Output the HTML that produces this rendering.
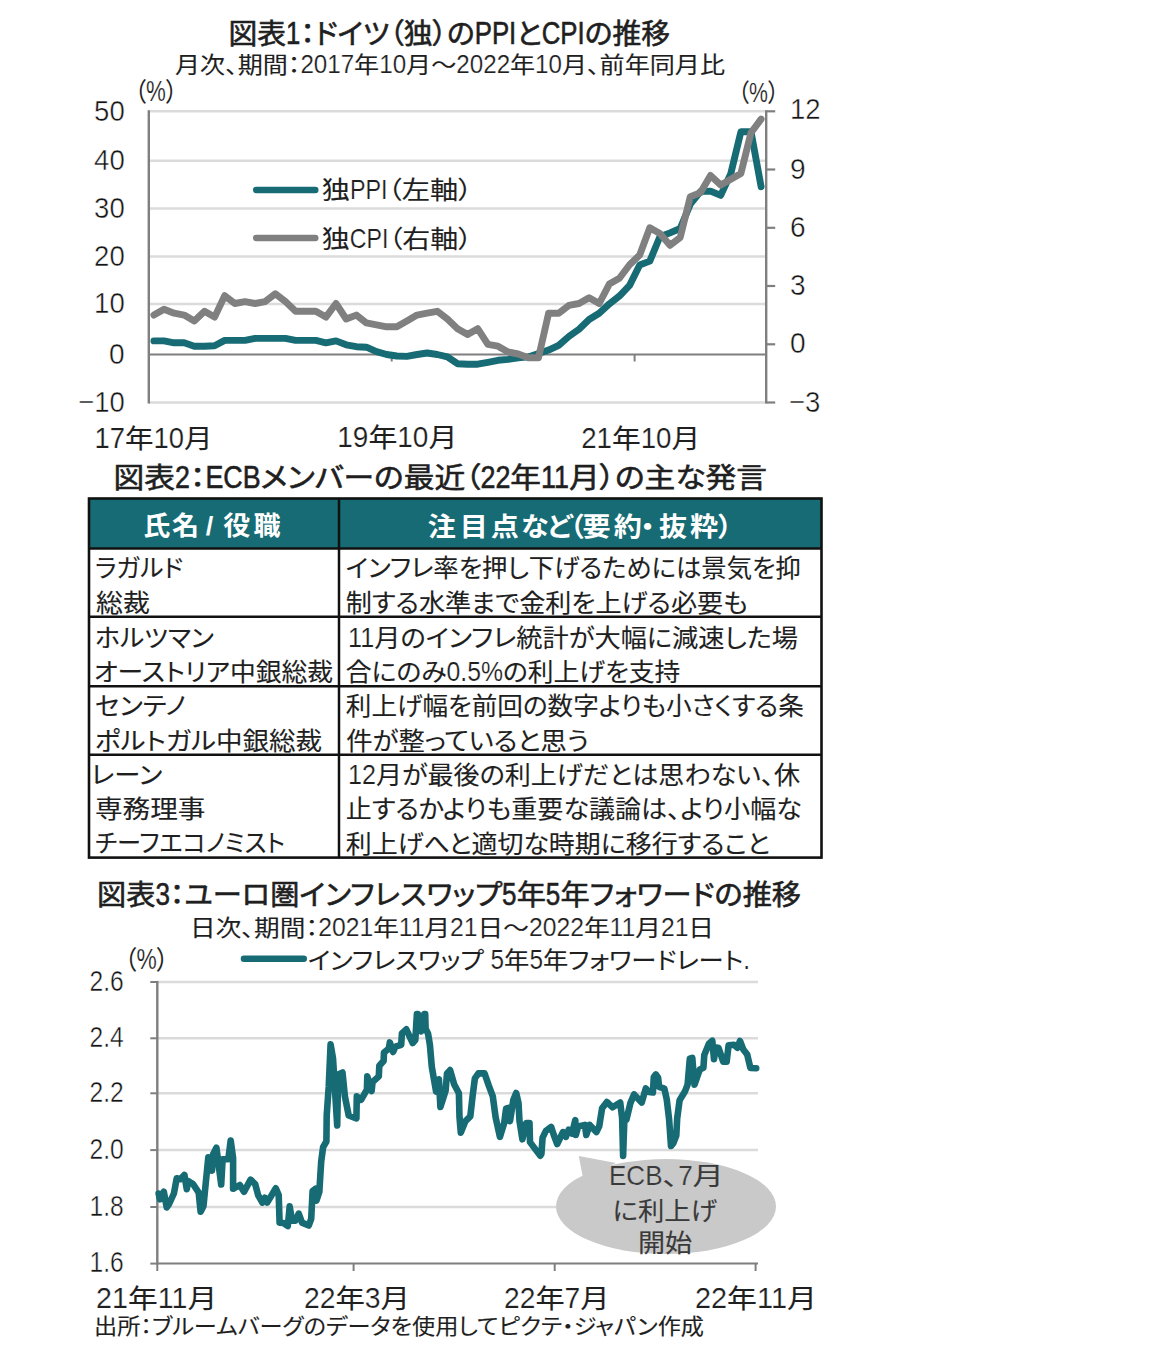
<!DOCTYPE html>
<html lang="ja"><head><meta charset="utf-8"><title>図表</title>
<style>
html,body{margin:0;padding:0;background:#fff;}
svg{display:block;}
text{font-family:"Liberation Sans","Noto Sans CJK JP",sans-serif;font-feature-settings:"palt";}
</style></head><body>
<svg width="1152" height="1345" viewBox="0 0 1152 1345">
<rect width="1152" height="1345" fill="#ffffff"/>
<text y="43.6" font-size="28.3" font-weight="400" fill="#1f1f1f" stroke="#1f1f1f" stroke-width="0.6"><tspan x="228.5" textLength="57.6" lengthAdjust="spacingAndGlyphs">図表</tspan><tspan x="286.1" font-size="31.7" textLength="14.3" lengthAdjust="spacingAndGlyphs">1</tspan><tspan x="300.4" textLength="174.3" lengthAdjust="spacingAndGlyphs">：ドイツ（独）の</tspan><tspan x="474.7" font-size="31.7" textLength="41.6" lengthAdjust="spacingAndGlyphs">PPI</tspan><tspan x="516.3" textLength="25.4" lengthAdjust="spacingAndGlyphs">と</tspan><tspan x="541.7" font-size="31.7" textLength="43.0" lengthAdjust="spacingAndGlyphs">CPI</tspan><tspan x="584.7" textLength="85.3" lengthAdjust="spacingAndGlyphs">の推移</tspan></text>
<text y="73.2" font-size="22.3" font-weight="400" fill="#1f1f1f" stroke="#1f1f1f" stroke-width="0.12"><tspan x="175.0" textLength="125.4" lengthAdjust="spacingAndGlyphs">月次、期間：</tspan><tspan x="300.4" font-size="25.0" stroke="#fff" stroke-width="0.2" textLength="53.8" lengthAdjust="spacingAndGlyphs">2017</tspan><tspan x="354.1" textLength="25.1" lengthAdjust="spacingAndGlyphs">年</tspan><tspan x="379.2" font-size="25.0" stroke="#fff" stroke-width="0.2" textLength="26.9" lengthAdjust="spacingAndGlyphs">10</tspan><tspan x="406.1" textLength="50.2" lengthAdjust="spacingAndGlyphs">月～</tspan><tspan x="456.3" font-size="25.0" stroke="#fff" stroke-width="0.2" textLength="53.8" lengthAdjust="spacingAndGlyphs">2022</tspan><tspan x="510.1" textLength="25.1" lengthAdjust="spacingAndGlyphs">年</tspan><tspan x="535.1" font-size="25.0" stroke="#fff" stroke-width="0.2" textLength="26.9" lengthAdjust="spacingAndGlyphs">10</tspan><tspan x="562.0" textLength="163.0" lengthAdjust="spacingAndGlyphs">月、前年同月比</tspan></text>
<text y="100.86" font-size="26" font-weight="400" fill="#1f1f1f" stroke="#1f1f1f" stroke-width="0.12"><tspan x="134.5" textLength="11.6" lengthAdjust="spacingAndGlyphs">（</tspan><tspan x="146.1" font-size="29.1" stroke="#fff" stroke-width="0.2" textLength="19.8" lengthAdjust="spacingAndGlyphs">%</tspan><tspan x="165.9" textLength="11.6" lengthAdjust="spacingAndGlyphs">）</tspan></text>
<text y="101.86" font-size="25" font-weight="400" fill="#1f1f1f" stroke="#1f1f1f" stroke-width="0.12"><tspan x="738.0" textLength="11.0" lengthAdjust="spacingAndGlyphs">（</tspan><tspan x="749.0" font-size="28.0" stroke="#fff" stroke-width="0.2" textLength="18.9" lengthAdjust="spacingAndGlyphs">%</tspan><tspan x="768.0" textLength="11.0" lengthAdjust="spacingAndGlyphs">）</tspan></text>
<line x1="148.8" x2="766.2" y1="111.3" y2="111.3" stroke="#dbdbdb" stroke-width="2.5"/>
<line x1="148.8" x2="766.2" y1="160.8" y2="160.8" stroke="#dbdbdb" stroke-width="2.5"/>
<line x1="148.8" x2="766.2" y1="208.5" y2="208.5" stroke="#dbdbdb" stroke-width="2.5"/>
<line x1="148.8" x2="766.2" y1="256.6" y2="256.6" stroke="#dbdbdb" stroke-width="2.5"/>
<line x1="148.8" x2="766.2" y1="303.9" y2="303.9" stroke="#dbdbdb" stroke-width="2.5"/>
<line x1="148.8" x2="766.2" y1="402.4" y2="402.4" stroke="#dbdbdb" stroke-width="2.5"/>
<line x1="148.8" x2="766.2" y1="354.5" y2="354.5" stroke="#7f7f7f" stroke-width="2.2"/>
<line x1="148.8" x2="148.8" y1="110.3" y2="403.5" stroke="#7f7f7f" stroke-width="2.4"/>
<line x1="766.2" x2="766.2" y1="110.3" y2="403.5" stroke="#7f7f7f" stroke-width="2.4"/>
<line x1="766.2" x2="775.2" y1="111.3" y2="111.3" stroke="#7f7f7f" stroke-width="2.2"/>
<line x1="766.2" x2="775.2" y1="169.5" y2="169.5" stroke="#7f7f7f" stroke-width="2.2"/>
<line x1="766.2" x2="775.2" y1="227.8" y2="227.8" stroke="#7f7f7f" stroke-width="2.2"/>
<line x1="766.2" x2="775.2" y1="286.0" y2="286.0" stroke="#7f7f7f" stroke-width="2.2"/>
<line x1="766.2" x2="775.2" y1="344.3" y2="344.3" stroke="#7f7f7f" stroke-width="2.2"/>
<line x1="766.2" x2="775.2" y1="402.5" y2="402.5" stroke="#7f7f7f" stroke-width="2.2"/>
<line x1="391.7" x2="391.7" y1="354.5" y2="361.5" stroke="#7f7f7f" stroke-width="2"/>
<line x1="634.6" x2="634.6" y1="354.5" y2="361.5" stroke="#7f7f7f" stroke-width="2"/>
<text x="94.1" y="120.7" font-size="30" font-weight="400" fill="#141414" stroke="#fff" stroke-width="0.45" textLength="30.6" lengthAdjust="spacingAndGlyphs">50</text>
<text x="94.1" y="170.2" font-size="30" font-weight="400" fill="#141414" stroke="#fff" stroke-width="0.45" textLength="30.6" lengthAdjust="spacingAndGlyphs">40</text>
<text x="94.1" y="217.9" font-size="30" font-weight="400" fill="#141414" stroke="#fff" stroke-width="0.45" textLength="30.6" lengthAdjust="spacingAndGlyphs">30</text>
<text x="94.1" y="266.0" font-size="30" font-weight="400" fill="#141414" stroke="#fff" stroke-width="0.45" textLength="30.6" lengthAdjust="spacingAndGlyphs">20</text>
<text x="94.1" y="313.3" font-size="30" font-weight="400" fill="#141414" stroke="#fff" stroke-width="0.45" textLength="30.6" lengthAdjust="spacingAndGlyphs">10</text>
<text x="109.1" y="363.7" font-size="30" font-weight="400" fill="#141414" stroke="#fff" stroke-width="0.45" textLength="15.6" lengthAdjust="spacingAndGlyphs">0</text>
<text x="78.2" y="411.8" font-size="30" font-weight="400" fill="#141414" stroke="#fff" stroke-width="0.45" textLength="46.5" lengthAdjust="spacingAndGlyphs">−10</text>
<text x="790.0" y="119.3" font-size="30" font-weight="400" fill="#141414" stroke="#fff" stroke-width="0.45" textLength="30.6" lengthAdjust="spacingAndGlyphs">12</text>
<text x="790.0" y="178.9" font-size="30" font-weight="400" fill="#141414" stroke="#fff" stroke-width="0.45" textLength="15.6" lengthAdjust="spacingAndGlyphs">9</text>
<text x="790.0" y="236.7" font-size="30" font-weight="400" fill="#141414" stroke="#fff" stroke-width="0.45" textLength="15.6" lengthAdjust="spacingAndGlyphs">6</text>
<text x="790.0" y="295.4" font-size="30" font-weight="400" fill="#141414" stroke="#fff" stroke-width="0.45" textLength="15.6" lengthAdjust="spacingAndGlyphs">3</text>
<text x="790.0" y="352.9" font-size="30" font-weight="400" fill="#141414" stroke="#fff" stroke-width="0.45" textLength="15.6" lengthAdjust="spacingAndGlyphs">0</text>
<text x="789.0" y="411.9" font-size="30" font-weight="400" fill="#141414" stroke="#fff" stroke-width="0.45" textLength="31.4" lengthAdjust="spacingAndGlyphs">−3</text>
<text y="447.7" font-size="26.3" font-weight="400" fill="#1f1f1f" stroke="#1f1f1f" stroke-width="0.12"><tspan x="94.4" font-size="29.5" stroke="#fff" stroke-width="0.2" textLength="30.5" lengthAdjust="spacingAndGlyphs">17</tspan><tspan x="124.9" textLength="28.5" lengthAdjust="spacingAndGlyphs">年</tspan><tspan x="153.4" font-size="29.5" stroke="#fff" stroke-width="0.2" textLength="30.5" lengthAdjust="spacingAndGlyphs">10</tspan><tspan x="183.9" textLength="28.5" lengthAdjust="spacingAndGlyphs">月</tspan></text>
<text y="446.9" font-size="26.3" font-weight="400" fill="#1f1f1f" stroke="#1f1f1f" stroke-width="0.12"><tspan x="337.3" font-size="29.5" stroke="#fff" stroke-width="0.2" textLength="31.1" lengthAdjust="spacingAndGlyphs">19</tspan><tspan x="368.4" textLength="28.9" lengthAdjust="spacingAndGlyphs">年</tspan><tspan x="397.3" font-size="29.5" stroke="#fff" stroke-width="0.2" textLength="31.1" lengthAdjust="spacingAndGlyphs">10</tspan><tspan x="428.4" textLength="28.9" lengthAdjust="spacingAndGlyphs">月</tspan></text>
<text y="447.7" font-size="26.3" font-weight="400" fill="#1f1f1f" stroke="#1f1f1f" stroke-width="0.12"><tspan x="581.2" font-size="29.5" stroke="#fff" stroke-width="0.2" textLength="30.8" lengthAdjust="spacingAndGlyphs">21</tspan><tspan x="612.0" textLength="28.7" lengthAdjust="spacingAndGlyphs">年</tspan><tspan x="640.7" font-size="29.5" stroke="#fff" stroke-width="0.2" textLength="30.8" lengthAdjust="spacingAndGlyphs">10</tspan><tspan x="671.5" textLength="28.7" lengthAdjust="spacingAndGlyphs">月</tspan></text>
<polyline points="153.9,340.9 164.0,340.9 174.1,342.8 184.2,342.8 194.3,346.2 204.5,346.2 214.6,345.7 224.7,340.4 234.8,340.4 245.0,340.4 255.1,338.4 265.2,338.4 275.3,338.4 285.4,338.4 295.6,340.4 305.7,340.4 315.8,340.4 325.9,342.8 336.0,340.9 346.2,344.8 356.3,346.7 366.4,347.2 376.5,351.6 386.7,354.5 396.8,356.0 406.9,356.4 417.0,354.5 427.1,353.0 437.3,354.5 447.4,356.9 457.5,363.7 467.6,364.2 477.7,364.2 487.9,362.3 498.0,360.3 508.1,359.4 518.2,357.9 528.3,356.9 538.5,353.5 548.6,350.1 558.7,345.3 568.8,336.5 579.0,329.2 589.1,319.5 599.2,313.2 609.3,303.9 619.4,296.1 629.6,285.4 639.7,265.0 649.8,261.1 659.9,236.8 670.0,232.9 680.2,228.5 690.3,204.2 700.4,191.6 710.5,191.1 720.7,195.4 730.8,173.6 740.9,131.7 751.0,131.7 761.1,186.7" fill="none" stroke="#176b74" stroke-width="6.9" stroke-linejoin="round" stroke-linecap="round"/>
<polyline points="153.9,315.1 164.0,309.3 174.1,313.2 184.2,315.1 194.3,321.0 204.5,311.3 214.6,317.1 224.7,295.7 234.8,303.5 245.0,301.6 255.1,303.5 265.2,301.6 275.3,293.8 285.4,301.6 295.6,311.3 305.7,311.3 315.8,311.3 325.9,317.1 336.0,303.5 346.2,319.0 356.3,315.1 366.4,322.9 376.5,324.8 386.7,326.8 396.8,326.8 406.9,321.0 417.0,315.1 427.1,313.2 437.3,311.3 447.4,319.0 457.5,328.7 467.6,334.6 477.7,328.7 487.9,344.3 498.0,346.2 508.1,352.0 518.2,354.0 528.3,357.8 538.5,357.8 548.6,313.2 558.7,313.2 568.8,305.4 579.0,303.5 589.1,297.7 599.2,303.5 609.3,284.1 619.4,278.3 629.6,264.7 639.7,255.0 649.8,227.8 659.9,233.6 670.0,245.3 680.2,237.5 690.3,196.7 700.4,192.8 710.5,175.4 720.7,185.1 730.8,179.2 740.9,173.4 751.0,132.7 761.1,119.1" fill="none" stroke="#808080" stroke-width="6.9" stroke-linejoin="round" stroke-linecap="round"/>
<line x1="256.2" x2="315.3" y1="190" y2="190" stroke="#176b74" stroke-width="6.4" stroke-linecap="round"/>
<line x1="256.2" x2="315.3" y1="238" y2="238" stroke="#808080" stroke-width="6.4" stroke-linecap="round"/>
<text y="199" font-size="24.5" font-weight="400" fill="#1f1f1f" stroke="#1f1f1f" stroke-width="0.12"><tspan x="321.8" textLength="28.2" lengthAdjust="spacingAndGlyphs">独</tspan><tspan x="350.0" font-size="27.4" stroke="#fff" stroke-width="0.2" textLength="37.6" lengthAdjust="spacingAndGlyphs">PPI</tspan><tspan x="387.7" textLength="84.6" lengthAdjust="spacingAndGlyphs">（左軸）</tspan></text>
<text y="248" font-size="24.5" font-weight="400" fill="#1f1f1f" stroke="#1f1f1f" stroke-width="0.12"><tspan x="321.8" textLength="28.0" lengthAdjust="spacingAndGlyphs">独</tspan><tspan x="349.8" font-size="27.4" stroke="#fff" stroke-width="0.2" textLength="38.6" lengthAdjust="spacingAndGlyphs">CPI</tspan><tspan x="388.4" textLength="83.9" lengthAdjust="spacingAndGlyphs">（右軸）</tspan></text>
<text y="488.3" font-size="28.3" font-weight="400" fill="#1f1f1f" stroke="#1f1f1f" stroke-width="0.6"><tspan x="113.6" textLength="61.5" lengthAdjust="spacingAndGlyphs">図表</tspan><tspan x="175.1" font-size="31.7" textLength="14.9" lengthAdjust="spacingAndGlyphs">2</tspan><tspan x="190.0" textLength="15.4" lengthAdjust="spacingAndGlyphs">：</tspan><tspan x="205.4" font-size="31.7" textLength="55.2" lengthAdjust="spacingAndGlyphs">ECB</tspan><tspan x="260.6" textLength="219.9" lengthAdjust="spacingAndGlyphs">メンバーの最近（</tspan><tspan x="480.5" font-size="31.7" textLength="29.9" lengthAdjust="spacingAndGlyphs">22</tspan><tspan x="510.3" textLength="30.7" lengthAdjust="spacingAndGlyphs">年</tspan><tspan x="541.1" font-size="31.7" textLength="27.9" lengthAdjust="spacingAndGlyphs">11</tspan><tspan x="568.9" textLength="198.1" lengthAdjust="spacingAndGlyphs">月）の主な発言</tspan></text>
<rect x="89" y="498.5" width="732.5" height="49.89999999999998" fill="#176b74"/>
<rect x="89" y="498.5" width="732.5" height="359.1" fill="none" stroke="#111" stroke-width="2.6"/>
<line x1="89" x2="821.5" y1="548.4" y2="548.4" stroke="#111" stroke-width="2.5"/>
<line x1="89" x2="821.5" y1="616.8" y2="616.8" stroke="#111" stroke-width="2.5"/>
<line x1="89" x2="821.5" y1="686.3" y2="686.3" stroke="#111" stroke-width="2.5"/>
<line x1="89" x2="821.5" y1="754.8" y2="754.8" stroke="#111" stroke-width="2.5"/>
<line x1="339" x2="339" y1="498.5" y2="857.6" stroke="#111" stroke-width="2.5"/>
<text y="535.3" font-size="26" font-weight="700" fill="#fff" text-anchor="middle" transform="scale(1.04,1)"><tspan x="150.7">氏</tspan><tspan x="178.5">名</tspan><tspan x="201.4">/</tspan><tspan x="227.7">役</tspan><tspan x="256.7">職</tspan></text>
<text y="535.6" font-size="26.5" font-weight="700" fill="#fff" text-anchor="middle" transform="scale(1.06,1)"><tspan x="416.8">注</tspan><tspan x="447.1">目</tspan><tspan x="476.2">点</tspan><tspan x="504.5">な</tspan><tspan x="528.3">ど</tspan><tspan x="543.9">（</tspan><tspan x="562.9">要</tspan><tspan x="592.3">約</tspan><tspan x="610.8">・</tspan><tspan x="635.0">抜</tspan><tspan x="664.2">粋</tspan><tspan x="684.2">）</tspan></text>
<text y="577" font-size="24.5" font-weight="400" fill="#1f1f1f" stroke="#1f1f1f" stroke-width="0.12"><tspan x="95.0" textLength="88.0" lengthAdjust="spacingAndGlyphs">ラガルド</tspan></text>
<text y="612" font-size="24.5" font-weight="400" fill="#1f1f1f" stroke="#1f1f1f" stroke-width="0.12"><tspan x="96.0" textLength="53.8" lengthAdjust="spacingAndGlyphs">総裁</tspan></text>
<text y="646.5" font-size="24.5" font-weight="400" fill="#1f1f1f" stroke="#1f1f1f" stroke-width="0.12"><tspan x="95.0" textLength="119.0" lengthAdjust="spacingAndGlyphs">ホルツマン</tspan></text>
<text y="681" font-size="24.5" font-weight="400" fill="#1f1f1f" stroke="#1f1f1f" stroke-width="0.12"><tspan x="94.0" textLength="239.0" lengthAdjust="spacingAndGlyphs">オーストリア中銀総裁</tspan></text>
<text y="715" font-size="24.5" font-weight="400" fill="#1f1f1f" stroke="#1f1f1f" stroke-width="0.12"><tspan x="95.0" textLength="91.0" lengthAdjust="spacingAndGlyphs">センテノ</tspan></text>
<text y="750" font-size="24.5" font-weight="400" fill="#1f1f1f" stroke="#1f1f1f" stroke-width="0.12"><tspan x="95.0" textLength="227.0" lengthAdjust="spacingAndGlyphs">ポルトガル中銀総裁</tspan></text>
<text y="784" font-size="24.5" font-weight="400" fill="#1f1f1f" stroke="#1f1f1f" stroke-width="0.12"><tspan x="91.2" textLength="71.1" lengthAdjust="spacingAndGlyphs">レーン</tspan></text>
<text y="817.7" font-size="24.5" font-weight="400" fill="#1f1f1f" stroke="#1f1f1f" stroke-width="0.12"><tspan x="95.0" textLength="110.5" lengthAdjust="spacingAndGlyphs">専務理事</tspan></text>
<text y="851.62" font-size="24.5" font-weight="400" fill="#1f1f1f" stroke="#1f1f1f" stroke-width="0.12"><tspan x="95.0" textLength="190.0" lengthAdjust="spacingAndGlyphs">チーフエコノミスト</tspan></text>
<text y="577" font-size="24.5" font-weight="400" fill="#1f1f1f" stroke="#1f1f1f" stroke-width="0.12"><tspan x="345.8" textLength="455.0" lengthAdjust="spacingAndGlyphs">インフレ率を押し下げるためには景気を抑</tspan></text>
<text y="612" font-size="24.5" font-weight="400" fill="#1f1f1f" stroke="#1f1f1f" stroke-width="0.12"><tspan x="345.8" textLength="402.0" lengthAdjust="spacingAndGlyphs">制する水準まで金利を上げる必要も</tspan></text>
<text y="646.5" font-size="24.5" font-weight="400" fill="#1f1f1f" stroke="#1f1f1f" stroke-width="0.12"><tspan x="348.0" font-size="27.4" stroke="#fff" stroke-width="0.2" textLength="26.2" lengthAdjust="spacingAndGlyphs">11</tspan><tspan x="374.2" textLength="423.8" lengthAdjust="spacingAndGlyphs">月のインフレ統計が大幅に減速した場</tspan></text>
<text y="681" font-size="24.5" font-weight="400" fill="#1f1f1f" stroke="#1f1f1f" stroke-width="0.12"><tspan x="345.8" textLength="100.7" lengthAdjust="spacingAndGlyphs">合にのみ</tspan><tspan x="446.5" font-size="27.4" stroke="#fff" stroke-width="0.2" textLength="56.5" lengthAdjust="spacingAndGlyphs">0.5%</tspan><tspan x="502.9" textLength="177.4" lengthAdjust="spacingAndGlyphs">の利上げを支持</tspan></text>
<text y="715.16" font-size="24.5" font-weight="400" fill="#1f1f1f" stroke="#1f1f1f" stroke-width="0.12"><tspan x="345.8" textLength="458.0" lengthAdjust="spacingAndGlyphs">利上げ幅を前回の数字よりも小さくする条</tspan></text>
<text y="750" font-size="24.5" font-weight="400" fill="#1f1f1f" stroke="#1f1f1f" stroke-width="0.12"><tspan x="346.2" textLength="242.6" lengthAdjust="spacingAndGlyphs">件が整っていると思う</tspan></text>
<text y="784" font-size="24.5" font-weight="400" fill="#1f1f1f" stroke="#1f1f1f" stroke-width="0.12"><tspan x="348.0" font-size="27.4" stroke="#fff" stroke-width="0.2" textLength="27.9" lengthAdjust="spacingAndGlyphs">12</tspan><tspan x="375.9" textLength="424.1" lengthAdjust="spacingAndGlyphs">月が最後の利上げだとは思わない、休</tspan></text>
<text y="818.1" font-size="24.5" font-weight="400" fill="#1f1f1f" stroke="#1f1f1f" stroke-width="0.12"><tspan x="345.8" textLength="456.0" lengthAdjust="spacingAndGlyphs">止するかよりも重要な議論は、より小幅な</tspan></text>
<text y="852.5" font-size="24.5" font-weight="400" fill="#1f1f1f" stroke="#1f1f1f" stroke-width="0.12"><tspan x="345.8" textLength="424.0" lengthAdjust="spacingAndGlyphs">利上げへと適切な時期に移行すること</tspan></text>
<text y="905.08" font-size="28.3" font-weight="400" fill="#1f1f1f" stroke="#1f1f1f" stroke-width="0.6"><tspan x="97.0" textLength="58.4" lengthAdjust="spacingAndGlyphs">図表</tspan><tspan x="155.4" font-size="31.7" textLength="14.5" lengthAdjust="spacingAndGlyphs">3</tspan><tspan x="169.9" textLength="332.2" lengthAdjust="spacingAndGlyphs">：ユーロ圏インフレスワップ</tspan><tspan x="502.1" font-size="31.7" textLength="14.5" lengthAdjust="spacingAndGlyphs">5</tspan><tspan x="516.7" textLength="29.2" lengthAdjust="spacingAndGlyphs">年</tspan><tspan x="545.8" font-size="31.7" textLength="14.5" lengthAdjust="spacingAndGlyphs">5</tspan><tspan x="560.4" textLength="240.6" lengthAdjust="spacingAndGlyphs">年フォワードの推移</tspan></text>
<text y="935.5" font-size="22.3" font-weight="400" fill="#1f1f1f" stroke="#1f1f1f" stroke-width="0.12"><tspan x="190.0" textLength="128.2" lengthAdjust="spacingAndGlyphs">日次、期間：</tspan><tspan x="318.2" font-size="25.0" stroke="#fff" stroke-width="0.2" textLength="55.0" lengthAdjust="spacingAndGlyphs">2021</tspan><tspan x="373.2" textLength="25.7" lengthAdjust="spacingAndGlyphs">年</tspan><tspan x="398.8" font-size="25.0" stroke="#fff" stroke-width="0.2" textLength="25.7" lengthAdjust="spacingAndGlyphs">11</tspan><tspan x="424.5" textLength="25.7" lengthAdjust="spacingAndGlyphs">月</tspan><tspan x="450.1" font-size="25.0" stroke="#fff" stroke-width="0.2" textLength="27.5" lengthAdjust="spacingAndGlyphs">21</tspan><tspan x="477.6" textLength="51.3" lengthAdjust="spacingAndGlyphs">日～</tspan><tspan x="528.9" font-size="25.0" stroke="#fff" stroke-width="0.2" textLength="55.0" lengthAdjust="spacingAndGlyphs">2022</tspan><tspan x="583.9" textLength="25.7" lengthAdjust="spacingAndGlyphs">年</tspan><tspan x="609.5" font-size="25.0" stroke="#fff" stroke-width="0.2" textLength="25.7" lengthAdjust="spacingAndGlyphs">11</tspan><tspan x="635.2" textLength="25.7" lengthAdjust="spacingAndGlyphs">月</tspan><tspan x="660.9" font-size="25.0" stroke="#fff" stroke-width="0.2" textLength="27.5" lengthAdjust="spacingAndGlyphs">21</tspan><tspan x="688.3" textLength="25.7" lengthAdjust="spacingAndGlyphs">日</tspan></text>
<text y="968.86" font-size="26" font-weight="400" fill="#1f1f1f" stroke="#1f1f1f" stroke-width="0.12"><tspan x="124.5" textLength="11.9" lengthAdjust="spacingAndGlyphs">（</tspan><tspan x="136.4" font-size="29.1" stroke="#fff" stroke-width="0.2" textLength="20.3" lengthAdjust="spacingAndGlyphs">%</tspan><tspan x="156.6" textLength="11.9" lengthAdjust="spacingAndGlyphs">）</tspan></text>
<line x1="243.9" x2="303.8" y1="958.8" y2="958.8" stroke="#176b74" stroke-width="6.4" stroke-linecap="round"/>
<text y="968.68" font-size="24" font-weight="400" fill="#1f1f1f" stroke="#1f1f1f" stroke-width="0.12"><tspan x="308.0" textLength="175.8" lengthAdjust="spacingAndGlyphs">インフレスワップ</tspan><tspan x="483.8" font-size="26.9" stroke="#fff" stroke-width="0.2" textLength="20.3" lengthAdjust="spacingAndGlyphs"> 5</tspan><tspan x="504.1" textLength="25.3" lengthAdjust="spacingAndGlyphs">年</tspan><tspan x="529.4" font-size="26.9" stroke="#fff" stroke-width="0.2" textLength="13.6" lengthAdjust="spacingAndGlyphs">5</tspan><tspan x="542.9" textLength="200.3" lengthAdjust="spacingAndGlyphs">年フォワードレート</tspan><tspan x="743.2" font-size="26.9" stroke="#fff" stroke-width="0.2" textLength="6.8" lengthAdjust="spacingAndGlyphs">.</tspan></text>
<line x1="157.3" x2="758" y1="982.0" y2="982.0" stroke="#dbdbdb" stroke-width="2.5"/>
<line x1="150.3" x2="157.3" y1="982.0" y2="982.0" stroke="#7f7f7f" stroke-width="2"/>
<text x="89.5" y="990.7" font-size="30" font-weight="400" fill="#141414" stroke="#fff" stroke-width="0.45" textLength="34.2" lengthAdjust="spacingAndGlyphs">2.6</text>
<line x1="157.3" x2="758" y1="1038.3" y2="1038.3" stroke="#dbdbdb" stroke-width="2.5"/>
<line x1="150.3" x2="157.3" y1="1038.3" y2="1038.3" stroke="#7f7f7f" stroke-width="2"/>
<text x="89.5" y="1047.0" font-size="30" font-weight="400" fill="#141414" stroke="#fff" stroke-width="0.45" textLength="34.2" lengthAdjust="spacingAndGlyphs">2.4</text>
<line x1="157.3" x2="758" y1="1093.3" y2="1093.3" stroke="#dbdbdb" stroke-width="2.5"/>
<line x1="150.3" x2="157.3" y1="1093.3" y2="1093.3" stroke="#7f7f7f" stroke-width="2"/>
<text x="89.5" y="1102.0" font-size="30" font-weight="400" fill="#141414" stroke="#fff" stroke-width="0.45" textLength="34.2" lengthAdjust="spacingAndGlyphs">2.2</text>
<line x1="157.3" x2="758" y1="1150.1" y2="1150.1" stroke="#dbdbdb" stroke-width="2.5"/>
<line x1="150.3" x2="157.3" y1="1150.1" y2="1150.1" stroke="#7f7f7f" stroke-width="2"/>
<text x="89.5" y="1158.8" font-size="30" font-weight="400" fill="#141414" stroke="#fff" stroke-width="0.45" textLength="34.2" lengthAdjust="spacingAndGlyphs">2.0</text>
<line x1="157.3" x2="758" y1="1207.0" y2="1207.0" stroke="#dbdbdb" stroke-width="2.5"/>
<line x1="150.3" x2="157.3" y1="1207.0" y2="1207.0" stroke="#7f7f7f" stroke-width="2"/>
<text x="89.5" y="1215.7" font-size="30" font-weight="400" fill="#141414" stroke="#fff" stroke-width="0.45" textLength="34.2" lengthAdjust="spacingAndGlyphs">1.8</text>
<line x1="150.3" x2="157.3" y1="1263.6" y2="1263.6" stroke="#7f7f7f" stroke-width="2"/>
<text x="89.5" y="1272.3" font-size="30" font-weight="400" fill="#141414" stroke="#fff" stroke-width="0.45" textLength="34.2" lengthAdjust="spacingAndGlyphs">1.6</text>
<line x1="157.3" x2="157.3" y1="981" y2="1264.5" stroke="#7f7f7f" stroke-width="2.4"/>
<line x1="157.3" x2="758" y1="1263.5" y2="1263.5" stroke="#7f7f7f" stroke-width="2.2"/>
<line x1="157.3" x2="157.3" y1="1263.5" y2="1271.0" stroke="#7f7f7f" stroke-width="2"/>
<line x1="353.6" x2="353.6" y1="1263.5" y2="1271.0" stroke="#7f7f7f" stroke-width="2"/>
<line x1="554.7" x2="554.7" y1="1263.5" y2="1271.0" stroke="#7f7f7f" stroke-width="2"/>
<line x1="755.6" x2="755.6" y1="1263.5" y2="1271.0" stroke="#7f7f7f" stroke-width="2"/>
<text y="1307.7" font-size="26.3" font-weight="400" fill="#1f1f1f" stroke="#1f1f1f" stroke-width="0.12"><tspan x="96.1" font-size="29.5" stroke="#fff" stroke-width="0.2" textLength="31.9" lengthAdjust="spacingAndGlyphs">21</tspan><tspan x="128.0" textLength="29.7" lengthAdjust="spacingAndGlyphs">年</tspan><tspan x="157.7" font-size="29.5" stroke="#fff" stroke-width="0.2" textLength="29.7" lengthAdjust="spacingAndGlyphs">11</tspan><tspan x="187.4" textLength="29.7" lengthAdjust="spacingAndGlyphs">月</tspan></text>
<text y="1307.7" font-size="26.3" font-weight="400" fill="#1f1f1f" stroke="#1f1f1f" stroke-width="0.12"><tspan x="303.9" font-size="29.5" stroke="#fff" stroke-width="0.2" textLength="31.5" lengthAdjust="spacingAndGlyphs">22</tspan><tspan x="335.5" textLength="29.4" lengthAdjust="spacingAndGlyphs">年</tspan><tspan x="364.8" font-size="29.5" stroke="#fff" stroke-width="0.2" textLength="15.8" lengthAdjust="spacingAndGlyphs">3</tspan><tspan x="380.6" textLength="29.4" lengthAdjust="spacingAndGlyphs">月</tspan></text>
<text y="1307.7" font-size="26.3" font-weight="400" fill="#1f1f1f" stroke="#1f1f1f" stroke-width="0.12"><tspan x="504.0" font-size="29.5" stroke="#fff" stroke-width="0.2" textLength="31.4" lengthAdjust="spacingAndGlyphs">22</tspan><tspan x="535.4" textLength="29.2" lengthAdjust="spacingAndGlyphs">年</tspan><tspan x="564.6" font-size="29.5" stroke="#fff" stroke-width="0.2" textLength="15.7" lengthAdjust="spacingAndGlyphs">7</tspan><tspan x="580.3" textLength="29.2" lengthAdjust="spacingAndGlyphs">月</tspan></text>
<text y="1307.7" font-size="26.3" font-weight="400" fill="#1f1f1f" stroke="#1f1f1f" stroke-width="0.12"><tspan x="694.9" font-size="29.5" stroke="#fff" stroke-width="0.2" textLength="32.1" lengthAdjust="spacingAndGlyphs">22</tspan><tspan x="727.0" textLength="29.9" lengthAdjust="spacingAndGlyphs">年</tspan><tspan x="757.0" font-size="29.5" stroke="#fff" stroke-width="0.2" textLength="30.0" lengthAdjust="spacingAndGlyphs">11</tspan><tspan x="787.0" textLength="29.9" lengthAdjust="spacingAndGlyphs">月</tspan></text>
<text y="1333.5" font-size="21.5" font-weight="400" fill="#1f1f1f" stroke="#1f1f1f" stroke-width="0.12"><tspan x="94.0" textLength="610.0" lengthAdjust="spacingAndGlyphs">出所：ブルームバーグのデータを使用してピクテ・ジャパン作成</tspan></text>
<ellipse cx="666" cy="1206.5" rx="110" ry="47.5" fill="#c9c9c9"/>
<polygon points="578.8,1156 616,1163 583,1178" fill="#c9c9c9"/>
<text y="1185.28" font-size="25" font-weight="400" fill="#3a3a3a" stroke="#3a3a3a" stroke-width="0.12"><tspan x="609.0" font-size="28.0" stroke="#c9c9c9" stroke-width="0.2" textLength="53.5" lengthAdjust="spacingAndGlyphs">ECB</tspan><tspan x="662.5" textLength="15.7" lengthAdjust="spacingAndGlyphs">、</tspan><tspan x="678.2" font-size="28.0" stroke="#c9c9c9" stroke-width="0.2" textLength="14.5" lengthAdjust="spacingAndGlyphs">7</tspan><tspan x="692.6" textLength="31.4" lengthAdjust="spacingAndGlyphs">月</tspan></text>
<text y="1219.74" font-size="25" font-weight="400" fill="#3a3a3a" stroke="#3a3a3a" stroke-width="0.12"><tspan x="612.5" textLength="104.5" lengthAdjust="spacingAndGlyphs">に利上げ</tspan></text>
<text y="1252.32" font-size="25" font-weight="400" fill="#3a3a3a" stroke="#3a3a3a" stroke-width="0.12"><tspan x="637.9" textLength="54.2" lengthAdjust="spacingAndGlyphs">開始</tspan></text>
<polyline points="158.6,1193.5 160.0,1199.3 163.8,1191.6 166.7,1207.4 169.1,1204.0 173.9,1193.5 176.7,1178.3 180.6,1179.2 184.4,1174.9 186.8,1189.2 188.2,1181.0 193.0,1184.0 198.7,1192.6 200.6,1211.7 203.5,1206.0 208.3,1157.2 212.0,1170.6 213.0,1154.4 216.4,1147.7 221.2,1184.5 222.6,1159.2 228.3,1159.2 230.7,1140.5 233.1,1158.2 233.1,1188.8 239.8,1185.0 244.0,1191.8 250.6,1179.7 255.2,1184.2 258.1,1195.0 262.4,1202.6 264.8,1197.8 267.2,1202.6 275.8,1188.3 278.7,1195.0 279.6,1222.6 283.5,1223.0 287.8,1226.0 289.7,1206.4 292.0,1220.7 295.4,1220.7 298.7,1213.6 302.0,1222.6 308.8,1225.5 311.2,1218.8 312.6,1191.1 315.5,1188.7 316.4,1200.7 319.3,1192.0 321.2,1161.5 323.1,1147.2 326.4,1141.5 326.7,1115.5 328.7,1086.9 330.6,1044.4 333.0,1058.2 337.2,1125.5 338.2,1074.4 342.5,1072.5 344.9,1096.4 348.7,1115.5 356.4,1118.4 356.8,1096.4 361.1,1099.8 366.9,1089.7 367.3,1076.4 371.6,1091.2 372.6,1082.0 378.8,1076.4 379.3,1065.8 383.6,1061.0 384.0,1052.5 388.8,1048.7 389.8,1042.4 393.1,1052.0 395.5,1046.7 401.2,1044.8 401.9,1033.4 406.3,1029.3 412.7,1043.0 415.3,1040.1 416.9,1014.0 417.9,1014.0 421.1,1031.5 424.3,1014.0 425.2,1014.0 425.6,1028.7 428.0,1033.4 429.9,1044.9 431.8,1066.9 436.1,1091.7 438.9,1079.3 440.4,1107.0 445.6,1090.7 447.0,1073.5 450.1,1070.1 454.1,1084.2 458.9,1093.3 459.5,1117.3 460.8,1132.6 465.5,1121.1 470.3,1116.4 472.8,1094.4 474.9,1078.3 478.4,1073.4 484.5,1073.2 488.7,1085.4 492.8,1096.4 495.6,1117.3 499.9,1136.9 504.2,1123.0 506.1,1108.7 508.5,1107.8 510.0,1121.1 513.3,1100.1 516.2,1093.0 518.5,1103.0 519.5,1121.1 522.4,1139.3 526.2,1123.0 529.5,1123.0 530.0,1142.1 534.3,1147.9 540.3,1155.7 541.4,1154.0 542.6,1137.6 545.9,1130.9 551.2,1127.0 553.8,1135.0 557.2,1144.0 562.9,1132.1 565.8,1136.9 568.7,1129.7 572.0,1133.5 575.3,1120.1 575.8,1135.0 578.2,1126.4 584.9,1124.9 586.3,1135.0 589.7,1124.9 596.4,1132.1 599.2,1126.4 602.1,1108.2 606.9,1102.0 612.6,1107.3 620.2,1102.5 622.1,1117.8 623.1,1156.0 624.5,1115.9 626.4,1119.7 630.3,1103.4 634.1,1094.4 641.7,1102.5 645.8,1088.4 649.0,1092.0 652.9,1092.5 653.8,1077.2 655.8,1074.4 658.1,1077.7 659.1,1086.8 664.4,1088.7 666.7,1099.2 669.1,1119.3 671.0,1146.0 673.4,1143.2 676.3,1135.5 677.2,1118.3 679.6,1100.2 684.9,1091.6 687.6,1084.6 689.8,1058.7 692.3,1057.9 694.5,1084.7 699.8,1069.5 703.4,1067.8 704.3,1055.0 708.9,1043.8 712.3,1040.8 714.0,1059.2 715.7,1047.6 718.5,1047.8 723.2,1061.6 726.7,1061.6 728.6,1045.2 734.0,1044.8 737.4,1047.8 740.0,1041.0 743.3,1049.5 747.2,1054.5 750.4,1068.0 756.2,1068.2" fill="none" stroke="#176b74" stroke-width="6.6" stroke-linejoin="round" stroke-linecap="round"/>
</svg>
</body></html>
